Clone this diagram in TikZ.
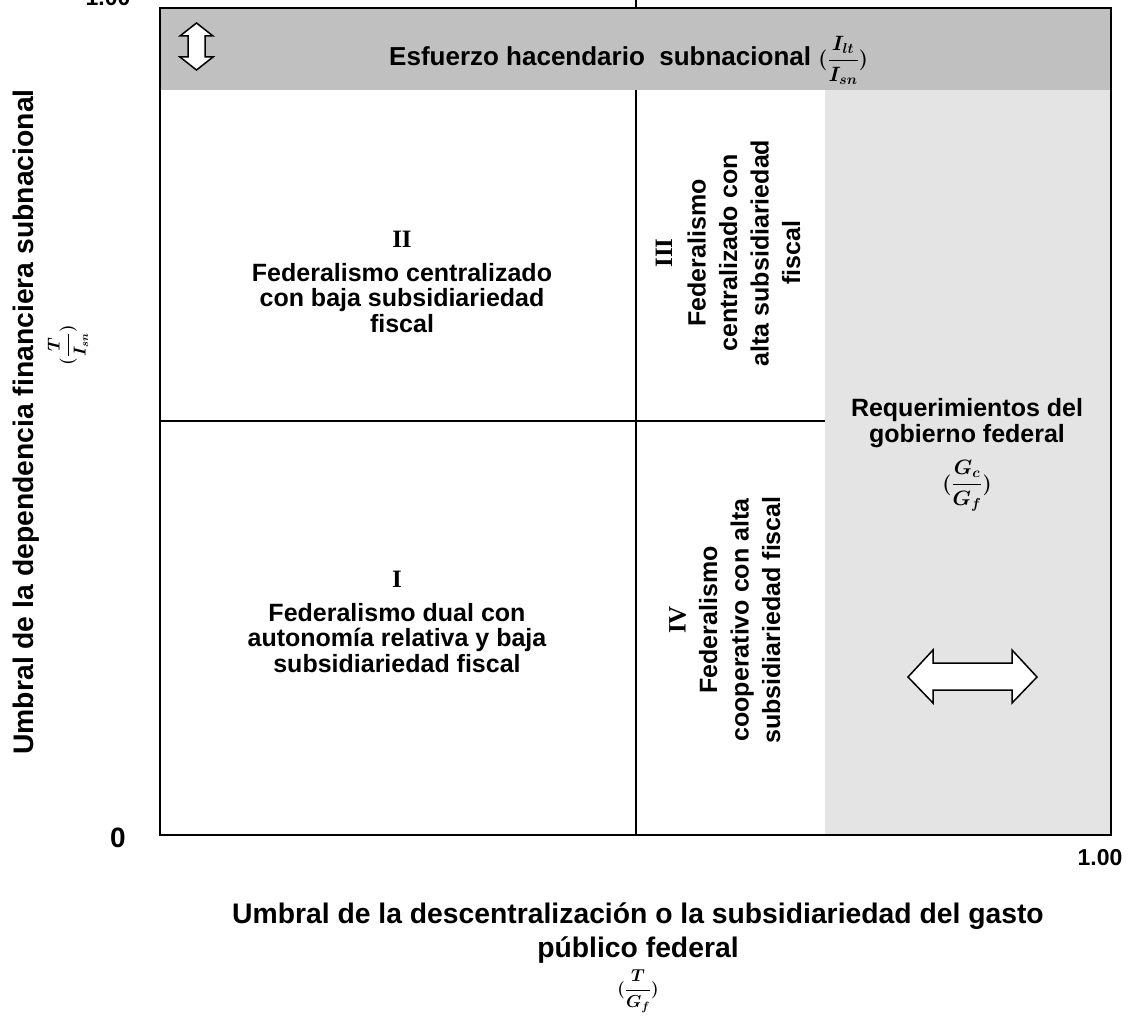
\documentclass[tikz,border=0pt]{standalone}
\usepackage{fontspec}
\setmainfont{Liberation Sans}
\newfontfamily\romfont{Liberation Serif}
\usepackage{amsmath}
\definecolor{bandgray}{RGB}{192,192,192}
\definecolor{regiongray}{RGB}{228,228,228}
\newcommand{\bfrac}[2]{{\boldmath$\displaystyle(\frac{#1}{#2})$}}
\begin{document}
\begin{tikzpicture}[x=1pt,y=-1pt,
  lbl/.style={font=\bfseries\fontsize{25}{25.5}\selectfont, align=center, inner sep=0pt},
  rlbl/.style={font=\bfseries\fontsize{25}{31.5}\selectfont, align=center, inner sep=0pt, rotate=90},
  axislbl/.style={font=\bfseries\fontsize{28.3}{34}\selectfont, align=center, inner sep=0pt},
  mathlbl/.style={font=\fontsize{20}{20}\selectfont, inner sep=0pt},
  numlbl/.style={font=\bfseries\fontsize{23}{23}\selectfont, inner sep=0pt},
  dblarrow/.style={draw=black, line width=1.5pt, fill=white, line join=miter},
  frame/.style={line width=2.5pt},
  divider/.style={line width=2pt}]
\useasboundingbox (0,0) rectangle (1128,1019);
\fill[white] (0,0) rectangle (1128,1019);
% shaded areas
\fill[bandgray] (160,8) rectangle (1111,90);
\fill[regiongray] (825,90) rectangle (1111,835);
% dividers
\coordinate (vtop) at (636,0);
\coordinate (vbot) at (636,835);
\coordinate (hl) at (160,421);
\coordinate (hr) at (825,421);
\draw[divider] (vtop) -- (636,8);
\draw[divider] (636,90) -- (vbot);
\draw[divider] (hl) -- (hr);
% frame
\draw[frame] (160,8) rectangle (1111,835);
% arrows
\draw[dblarrow] (196.5,23) -- (213,36) -- (205,36) -- (205,57) -- (213,57) -- (196.5,70) -- (180,57) -- (188,57) -- (188,36) -- (180,36) -- cycle;
\draw[dblarrow] (908,677) -- (933,650) -- (933,663) -- (1012,663) -- (1012,650) -- (1037,677) -- (1012,703) -- (1012,690) -- (933,690) -- (933,703) -- cycle;
% band text
\node[lbl, font=\bfseries\fontsize{26}{26}\selectfont, anchor=base west] (band) at (389,66) {Esfuerzo hacendario\ \ subnacional\ {\fontsize{21}{21}\selectfont\bfrac{I_{lt}}{I_{sn}}}};
% quadrants (anchor base = baseline of last line)
\node[lbl, anchor=base] (q2) at (402,332) {{\romfont II}\\[8pt] Federalismo centralizado\\ con baja subsidiariedad\\ fiscal};
\node[lbl, anchor=base] (q1) at (397,672) {{\romfont I}\\[8pt] Federalismo dual con\\ autonom\'ia relativa y baja\\ subsidiariedad fiscal};
\node[rlbl, anchor=base] (q3) at (800,253) {{\romfont III}\\[2pt] Federalismo\\ centralizado con\\ alta subsidiariedad\\ fiscal};
\node[rlbl, anchor=base] (q4) at (780,620) {{\romfont IV}\\ Federalismo\\ cooperativo con alta\\ subsidiariedad fiscal};
% federal requirements
\node[lbl, anchor=base] (req) at (967,442) {Requerimientos del\\ gobierno federal};
\node[mathlbl, font=\fontsize{21}{21}\selectfont] (reqfrac) at (967,486) {\bfrac{G_c}{G_f}};
% axis numbers
\node[numlbl, anchor=base] (top1) at (108,6) {1.00};
\node[numlbl, font=\bfseries\fontsize{28}{28}\selectfont] (zero) at (118,838) {0};
\node[numlbl] (right1) at (1100,858) {1.00};
% axis labels
\node[axislbl, anchor=base] (xlab) at (638,957) {Umbral de la descentralizaci\'on o la subsidiariedad del gasto\\ p\'ublico federal};
\node[mathlbl, font=\fontsize{18}{18}\selectfont] (xfrac) at (638,991) {\bfrac{T}{G_f}};
\node[axislbl, rotate=90, anchor=base] (ylab) at (33,422) {Umbral de la dependencia financiera subnacional};
\node[mathlbl, rotate=90, font=\fontsize{16}{16}\selectfont] (yfrac) at (68,345) {\bfrac{T}{I_{sn}}};
\end{tikzpicture}
\end{document}
